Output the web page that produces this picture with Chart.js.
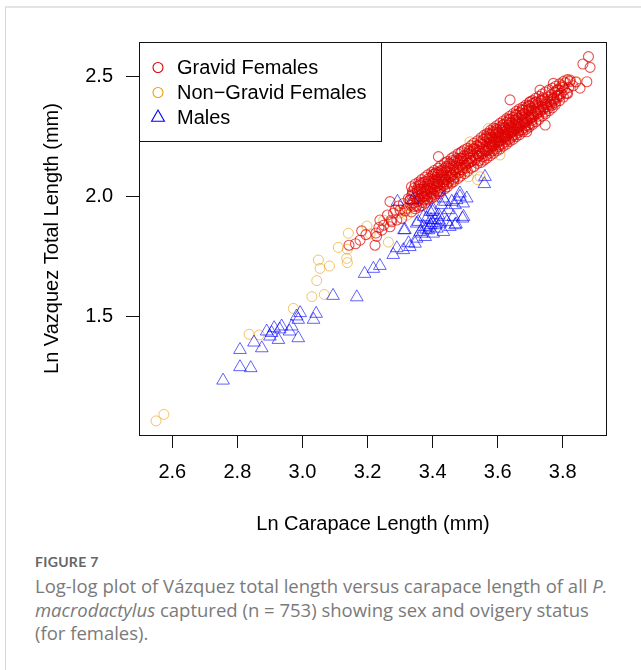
<!DOCTYPE html>
<html>
<head>
<meta charset="utf-8">
<script src="https://cdn.jsdelivr.net/npm/chart.js@4.4.1/dist/chart.umd.min.js"></script>
<style>
html,body{margin:0;padding:0;background:#fff;width:641px;height:670px;overflow:hidden;}
#card{position:absolute;left:5px;top:6px;width:700px;height:700px;border-top:2px solid #e4e4e4;border-left:1px solid #d6d6d6;}
#wrap{position:absolute;left:0;top:0;width:641px;height:550px;}
#cap{position:absolute;left:35px;top:550px;width:604px;color:#7a7a7a;}
#cap .fig{font-family:Lato,"Open Sans",sans-serif;font-size:14px;font-weight:700;color:#666;letter-spacing:0.3px;line-height:24px;}
#cap .txt{font-family:"Open Sans",Lato,sans-serif;font-size:18.5px;line-height:23.5px;}
</style>
</head>
<body>
<div id="card"></div>
<div id="wrap"><canvas id="c" width="641" height="550"></canvas></div>
<div id="cap">
<div class="fig">FIGURE 7</div>
<div class="txt">Log-log plot of Vázquez total length versus carapace length of all <i>P.</i><br><i>macrodactylus</i> captured (n = 753) showing sex and ovigery status<br>(for females).</div>
</div>
<script>
// ---------- data (ln carapace length, ln Vazquez total length) ----------
const seriesLabels = ['Gravid Females', 'Non\u2212Gravid Females', 'Males'];
const xTickValues = [2.6, 2.8, 3.0, 3.2, 3.4, 3.6, 3.8];
const yTickValues = [1.5, 2.0, 2.5];

const gravid = [
[3.143,1.796],[3.163,1.802],[3.177,1.817],[3.182,1.856],[3.195,1.840],[3.223,1.796],[3.226,1.847],[3.228,1.833],
[3.235,1.870],[3.238,1.901],[3.244,1.859],[3.250,1.880],[3.261,1.922],[3.269,1.873],[3.272,1.900],[3.269,1.978],
[3.274,1.894],[3.280,1.930],[3.285,1.943],[3.290,1.901],[3.295,1.960],[3.300,1.943],[3.305,1.908],[3.310,1.970],
[3.315,1.940],[3.321,1.950],[3.325,1.990],[3.330,1.985],
[3.333,1.963],[3.336,2.004],[3.331,1.985],[3.338,2.021],
[3.342,1.972],[3.345,2.010],[3.348,1.995],[3.344,2.035],
[3.352,1.978],[3.354,2.020],[3.357,2.044],[3.351,1.960],[3.356,2.003],
[3.361,1.990],[3.364,2.031],[3.367,2.012],[3.362,2.055],[3.368,1.975],
[3.371,2.000],[3.373,2.040],[3.376,2.022],[3.378,2.062],[3.374,1.985],[3.379,2.030],
[3.381,2.010],[3.383,2.052],[3.386,2.033],[3.388,2.074],[3.384,1.990],[3.389,2.045],
[3.391,2.020],[3.393,2.062],[3.396,2.041],[3.398,2.085],[3.394,1.998],[3.399,2.055],
[3.401,2.030],[3.403,2.071],[3.406,2.051],[3.408,2.095],[3.404,2.008],[3.409,2.065],
[3.411,2.040],[3.413,2.080],[3.416,2.061],[3.418,2.100],[3.414,2.020],[3.419,2.072],
[3.421,2.050],[3.423,2.090],[3.426,2.071],[3.428,2.110],[3.424,2.035],[3.429,2.082],
[3.431,2.060],[3.433,2.098],[3.436,2.081],[3.438,2.118],[3.434,2.045],
[3.441,2.070],[3.443,2.108],[3.446,2.090],[3.448,2.125],[3.444,2.052],
[3.451,2.080],[3.453,2.118],[3.456,2.100],[3.458,2.135],
[3.461,2.090],[3.463,2.128],[3.466,2.110],[3.468,2.145],[3.464,2.072],
[3.471,2.100],[3.474,2.138],[3.477,2.120],[3.479,2.152],
[3.482,2.110],[3.484,2.148],[3.487,2.130],[3.489,2.160],
[3.492,2.120],[3.494,2.158],[3.497,2.139],
[3.501,2.130],[3.503,2.168],[3.506,2.149],[3.508,2.180],
[3.512,2.140],[3.514,2.178],[3.517,2.159],
[3.521,2.150],[3.523,2.188],[3.526,2.169],[3.528,2.200],
[3.532,2.160],[3.534,2.198],[3.537,2.179],
[3.541,2.168],[3.543,2.208],[3.546,2.188],[3.548,2.220],[3.544,2.150],
[3.552,2.178],[3.554,2.218],[3.557,2.198],
[3.561,2.188],[3.563,2.228],[3.566,2.208],[3.568,2.245],[3.564,2.170],
[3.571,2.195],[3.573,2.238],[3.576,2.218],[3.578,2.258],[3.574,2.180],[3.579,2.228],
[3.581,2.205],[3.583,2.248],[3.586,2.228],[3.588,2.268],[3.584,2.190],[3.589,2.238],
[3.591,2.215],[3.593,2.258],[3.596,2.237],[3.598,2.278],[3.594,2.198],[3.599,2.248],
[3.601,2.225],[3.603,2.268],[3.606,2.247],[3.608,2.290],[3.604,2.208],[3.609,2.258],
[3.611,2.235],[3.613,2.278],[3.616,2.257],[3.618,2.300],[3.614,2.218],[3.619,2.268],
[3.621,2.245],[3.623,2.288],[3.626,2.267],[3.628,2.310],[3.624,2.228],[3.629,2.278],
[3.631,2.255],[3.633,2.298],[3.636,2.277],[3.638,2.320],[3.634,2.238],[3.639,2.288],
[3.641,2.265],[3.643,2.308],[3.646,2.286],[3.648,2.330],[3.644,2.248],[3.649,2.298],
[3.651,2.275],[3.653,2.318],[3.656,2.296],[3.658,2.340],[3.654,2.258],[3.659,2.308],
[3.661,2.285],[3.663,2.328],[3.666,2.306],[3.668,2.350],[3.664,2.268],
[3.671,2.295],[3.673,2.338],[3.676,2.316],[3.678,2.360],[3.674,2.278],
[3.681,2.305],[3.683,2.348],[3.686,2.326],[3.688,2.370],[3.684,2.288],
[3.691,2.315],[3.693,2.358],[3.696,2.335],[3.698,2.378],[3.694,2.298],
[3.701,2.325],[3.703,2.368],[3.706,2.345],[3.708,2.388],[3.704,2.305],
[3.711,2.335],[3.713,2.378],[3.716,2.355],[3.718,2.395],
[3.721,2.345],[3.723,2.388],[3.726,2.365],
[3.731,2.355],[3.733,2.398],[3.736,2.375],[3.738,2.412],
[3.741,2.365],[3.743,2.405],[3.746,2.384],
[3.751,2.375],[3.754,2.415],[3.757,2.394],
[3.762,2.385],[3.765,2.425],[3.768,2.404],
[3.772,2.398],[3.775,2.435],
[3.782,2.410],[3.785,2.445],[3.788,2.425],
[3.795,2.430],[3.798,2.462],
[3.805,2.445],[3.808,2.475],
[3.818,2.455],[3.822,2.480],
[3.335,1.935],[3.335,2.040],[3.347,1.948],[3.347,2.052],[3.358,1.955],[3.358,2.060],[3.359,2.030],
[3.366,1.962],[3.366,2.070],[3.377,1.972],[3.377,2.080],[3.375,2.000],[3.385,1.985],[3.385,2.090],
[3.397,1.992],[3.397,2.100],[3.395,2.015],[3.405,2.000],[3.405,2.108],[3.417,2.012],[3.417,2.118],
[3.415,2.090],[3.425,2.022],[3.425,2.128],[3.437,2.032],[3.437,2.140],[3.435,2.060],[3.445,2.040],
[3.445,2.145],[3.457,2.055],[3.457,2.158],[3.455,2.082],[3.465,2.062],[3.465,2.165],[3.478,2.075],
[3.478,2.178],[3.486,2.085],[3.486,2.182],[3.498,2.095],[3.498,2.195],[3.507,2.105],[3.507,2.200],
[3.518,2.118],[3.518,2.212],[3.527,2.125],[3.527,2.222],[3.538,2.138],[3.538,2.232],[3.549,2.142],
[3.549,2.245],[3.558,2.152],[3.558,2.255],[3.567,2.160],[3.567,2.262],[3.569,2.190],[3.577,2.170],
[3.577,2.275],[3.575,2.245],[3.587,2.180],[3.587,2.285],[3.585,2.212],[3.597,2.190],[3.597,2.295],
[3.595,2.265],[3.607,2.198],[3.607,2.305],[3.605,2.230],[3.617,2.210],[3.617,2.315],[3.615,2.285],
[3.627,2.218],[3.627,2.325],[3.625,2.250],[3.637,2.230],[3.637,2.335],[3.635,2.305],[3.647,2.238],
[3.647,2.345],[3.645,2.270],[3.657,2.250],[3.657,2.355],[3.655,2.322],[3.667,2.258],[3.667,2.365],
[3.665,2.290],[3.677,2.270],[3.677,2.372],[3.675,2.342],[3.687,2.280],[3.687,2.382],[3.685,2.310],
[3.697,2.290],[3.697,2.392],[3.695,2.362],[3.707,2.300],[3.707,2.400],[3.705,2.330],[3.717,2.312],
[3.717,2.410],[3.727,2.322],[3.727,2.418],[3.737,2.335],[3.737,2.428],[3.747,2.345],[3.747,2.436],
[3.758,2.358],[3.758,2.445],[3.768,2.370],[3.768,2.452],[3.778,2.385],[3.778,2.460],[3.790,2.400],
[3.790,2.470],[3.802,2.415],[3.802,2.480],[3.815,2.430],[3.815,2.488],
[3.339,2.012],[3.343,1.958],[3.353,2.028],[3.359,1.985],[3.363,2.048],[3.369,1.998],[3.372,2.058],[3.382,2.002],
[3.387,2.064],[3.392,2.031],[3.399,2.012],[3.402,2.092],[3.407,2.025],[3.412,2.102],[3.415,2.045],[3.422,2.020],
[3.427,2.105],[3.432,2.050],[3.439,2.072],[3.442,2.125],[3.449,2.060],[3.452,2.138],[3.459,2.088],[3.462,2.150],
[3.469,2.080],[3.473,2.158],[3.481,2.098],[3.485,2.160],[3.491,2.112],[3.496,2.170],[3.502,2.118],[3.509,2.138],
[3.513,2.190],[3.519,2.145],[3.524,2.198],[3.531,2.152],[3.536,2.212],[3.542,2.170],[3.547,2.228],[3.553,2.165],
[3.556,2.238],[3.562,2.192],[3.565,2.250],[3.572,2.205],[3.575,2.262],[3.582,2.212],[3.585,2.272],[3.592,2.225],
[3.595,2.282],[3.602,2.232],[3.605,2.215],[3.612,2.245],[3.615,2.298],[3.622,2.252],[3.625,2.238],[3.632,2.262],
[3.635,2.322],[3.642,2.272],[3.645,2.255],[3.652,2.282],[3.655,2.342],[3.662,2.292],[3.665,2.275],[3.672,2.302],
[3.675,2.362],[3.682,2.312],[3.685,2.295],[3.692,2.322],[3.695,2.378],[3.702,2.332],[3.705,2.318],[3.712,2.342],
[3.715,2.392],[3.722,2.350],[3.725,2.335],[3.732,2.362],[3.735,2.402],[3.742,2.372],[3.745,2.352],[3.752,2.385],
[3.755,2.368],[3.763,2.395],[3.766,2.380],[3.773,2.408],[3.776,2.392],[3.783,2.418],[3.792,2.420],[3.800,2.455],
[3.879,2.584],[3.862,2.553],[3.884,2.539],[3.874,2.479],[3.853,2.452],[3.812,2.431],[3.823,2.486],[3.782,2.444],
[3.771,2.472],[3.730,2.444],[3.638,2.403],[3.746,2.298],[3.418,2.166],[3.490,2.187],[3.689,2.270],[3.700,2.396],
[3.840,2.478],[3.832,2.462]
];

const nonGravid = [
[2.550,1.062],[2.574,1.089],[2.836,1.424],[2.867,1.421],[2.972,1.532],[3.029,1.581],[3.067,1.590],[3.044,1.648],
[3.049,1.734],[3.054,1.699],[3.083,1.709],[3.110,1.787],[3.136,1.741],[3.138,1.723],[3.141,1.846],[3.138,1.779],
[3.198,1.876],[3.208,1.843],[3.264,1.809],[3.321,1.922],[3.318,1.936],[3.546,2.082],[3.538,2.070],[3.571,2.283],
[3.628,2.319],[3.807,2.486],[3.843,2.479],[3.792,2.458],[3.515,2.201],[3.525,2.207],[3.484,2.131],[3.495,2.103],
[3.607,2.173],[3.659,2.340],[3.510,2.082],[3.464,2.068],[3.515,2.228],[3.490,2.106],
[3.360,2.000],[3.380,2.030],[3.400,2.050],[3.430,2.070],[3.450,2.100],[3.470,2.090],[3.500,2.130],[3.550,2.180],
[3.580,2.200],[3.620,2.240],[3.660,2.280],[3.700,2.330],[3.750,2.400],[3.780,2.440],[3.330,1.970],[3.300,1.930],
[3.250,1.900],[3.560,2.240],[3.600,2.270],[3.680,2.360]
];

const males = [
[2.756,1.231],[2.808,1.287],[2.841,1.283],[2.808,1.359],[2.851,1.390],[2.875,1.366],[2.890,1.436],[2.900,1.415],
[2.913,1.450],[2.926,1.401],[2.936,1.457],[2.960,1.436],[2.967,1.457],[2.987,1.408],[2.987,1.485],[2.993,1.513],
[2.982,1.499],[3.034,1.485],[3.042,1.510],[3.094,1.585],[3.167,1.579],[3.191,1.677],[3.218,1.698],[3.238,1.710],
[3.279,1.756],[3.290,1.784],[3.310,1.776],[3.326,1.805],[3.315,1.860],[3.330,1.789],[3.346,1.803],[3.351,1.824],
[3.356,1.894],[3.367,1.845],[3.372,1.873],[3.377,1.831],[3.382,1.908],[3.387,1.859],[3.394,1.880],[3.400,1.936],
[3.402,1.845],[3.407,1.901],[3.413,1.866],[3.418,1.922],[3.423,1.887],[3.433,1.852],[3.435,1.915],[3.444,1.894],
[3.449,1.943],[3.438,1.978],[3.453,1.873],[3.464,1.915],[3.469,1.964],[3.474,1.985],[3.484,1.999],[3.494,1.971],
[3.492,1.908],[3.469,1.880],[3.505,1.992],[3.292,1.978],[3.339,1.985],[3.561,2.082],[3.559,2.052],[3.433,1.992],
[3.484,2.013],[3.459,1.978],[3.495,1.915],[3.472,1.884],[3.392,1.936],[3.372,1.915],[3.351,1.887],[3.312,1.859],
[2.905,1.430],[2.930,1.445],[3.390,1.870],[3.398,1.890],[3.410,1.880],[3.380,1.862],[3.420,1.900],[3.362,1.852],
[3.395,1.902],[3.427,1.964],[3.402,1.945]
];

// ---------- styles ----------
const legendColors = ['#dd0000', '#e8a015', '#0000ff'];
const pointColors = ['rgba(221,0,0,0.68)', 'rgba(235,160,10,0.62)', 'rgba(0,0,255,0.62)'];
const FONT = '"Liberation Sans", Arial, Helvetica, sans-serif';

const toXY = arr => arr.map(p => ({x: p[0], y: p[1]}));

const boxLegend = {
  id: 'boxLegend',
  afterDraw(chart) {
    const {ctx, chartArea: a} = chart;
    ctx.save();
    ctx.strokeStyle = '#111';
    ctx.lineWidth = 1;
    ctx.strokeRect(a.left + 0.5, a.top + 0.5, a.right - a.left - 1, a.bottom - a.top);
    // legend box
    const lx = a.left, ly = a.top, lw = 242, lh = 99;
    ctx.fillStyle = '#fff';
    ctx.fillRect(lx + 1, ly + 1, lw - 1, lh - 1);
    ctx.strokeRect(lx + 0.5, ly + 0.5, lw, lh);
    ctx.font = '20px ' + FONT;
    ctx.textBaseline = 'middle';
    ctx.textAlign = 'left';
    const styles = ['circle', 'circle', 'triangle'];
    for (let i = 0; i < 3; i++) {
      const cy = ly + 25.5 + i * 25;
      const cx = lx + 19;
      ctx.strokeStyle = legendColors[i];
      ctx.lineWidth = 1.1;
      ctx.beginPath();
      if (styles[i] === 'circle') {
        ctx.arc(cx, cy, 5, 0, Math.PI * 2);
      } else {
        const r = 7.4;
        ctx.moveTo(cx, cy - r);
        ctx.lineTo(cx + r * 0.866, cy + r / 2);
        ctx.lineTo(cx - r * 0.866, cy + r / 2);
        ctx.closePath();
      }
      ctx.stroke();
      ctx.fillStyle = '#000';
      ctx.fillText(seriesLabels[i], lx + 38, cy + 1);
    }
    ctx.restore();
  }
};

new Chart(document.getElementById('c'), {
  type: 'scatter',
  data: {
    datasets: [
      {label: seriesLabels[2], data: toXY(males), order: 0, pointStyle: 'triangle', radius: 7.3,
       borderColor: pointColors[2], backgroundColor: 'rgba(0,0,0,0)', borderWidth: 1},
      {label: seriesLabels[0], data: toXY(gravid), order: 1, pointStyle: 'circle', radius: 5,
       borderColor: pointColors[0], backgroundColor: 'rgba(0,0,0,0)', borderWidth: 1.1},
      {label: seriesLabels[1], data: toXY(nonGravid), order: 2, pointStyle: 'circle', radius: 5,
       borderColor: pointColors[1], backgroundColor: 'rgba(0,0,0,0)', borderWidth: 1}
    ]
  },
  options: {
    responsive: false,
    animation: false,
    events: [],
    layout: {padding: {left: 0, top: 42, right: 34, bottom: 0}},
    plugins: {legend: {display: false}, tooltip: {enabled: false}},
    elements: {point: {hoverRadius: 5}},
    scales: {
      x: {
        type: 'linear', min: 2.4976, max: 3.936,
        afterFit: s => { s.height = 115; },
        afterBuildTicks: s => { s.ticks = xTickValues.map(v => ({value: v})); },
        border: {display: false},
        grid: {display: true, drawOnChartArea: false, drawTicks: true, tickLength: 13, color: '#111', lineWidth: 1},
        ticks: {color: '#000', font: {family: FONT, size: 20}, padding: 12, maxRotation: 0, autoSkip: false,
                callback: v => v.toFixed(1)},
        title: {display: true, text: 'Ln Carapace Length (mm)', color: '#000',
                font: {family: FONT, size: 20}, padding: {top: 0, bottom: 14}}
      },
      y: {
        type: 'linear', min: 1.003, max: 2.645,
        afterFit: s => { s.width = 139; },
        afterBuildTicks: s => { s.ticks = yTickValues.map(v => ({value: v})); },
        border: {display: false},
        grid: {display: true, drawOnChartArea: false, drawTicks: true, tickLength: 13, color: '#111', lineWidth: 1},
        ticks: {color: '#000', font: {family: FONT, size: 20}, padding: 13, autoSkip: false,
                callback: v => v.toFixed(1)},
        title: {display: true, text: 'Ln Vazquez Total Length (mm)', color: '#000',
                font: {family: FONT, size: 20}, padding: {top: 40, bottom: 0}}
      }
    }
  },
  plugins: [boxLegend]
});
</script>
</body>
</html>
